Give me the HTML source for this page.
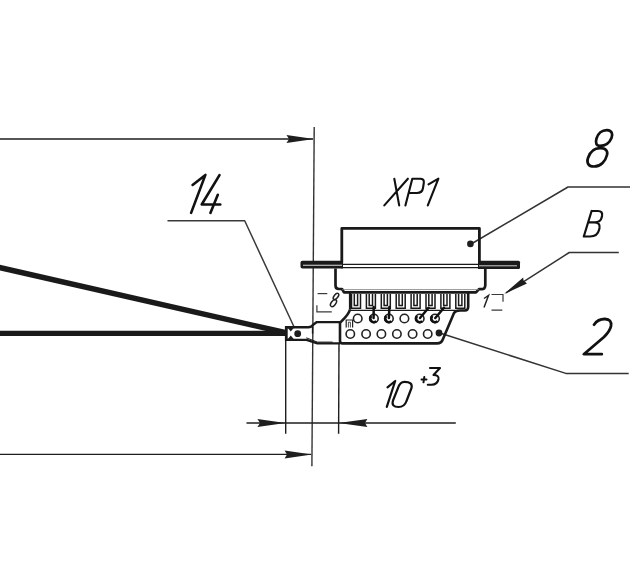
<!DOCTYPE html>
<html><head><meta charset="utf-8"><style>
html,body{margin:0;padding:0;background:#fff;width:643px;height:567px;overflow:hidden;font-family:"Liberation Sans",sans-serif;}
svg{display:block;}
</style></head><body>
<svg width="643" height="567" viewBox="0 0 643 567">
<rect width="643" height="567" fill="#fff"/>
<g fill="none" stroke="#1e1e1e" stroke-linecap="butt" stroke-linejoin="round">
  <!-- top dimension line -->
  <line x1="0" y1="139" x2="313" y2="139" stroke-width="1.4"/>
  <!-- long vertical -->
  <line x1="314.2" y1="127" x2="311.9" y2="466.3" stroke-width="1.4" stroke="#333"/>
  <!-- bottom dimension -->
  <line x1="0" y1="454.4" x2="311" y2="454.4" stroke-width="1.4"/>
  <!-- 10 dimension -->
  <line x1="246.5" y1="423" x2="455.8" y2="423" stroke-width="1.4"/>
  <line x1="285.7" y1="340" x2="285.7" y2="433.7" stroke-width="1.4"/>
  <line x1="339" y1="343" x2="338.6" y2="433.7" stroke-width="1.4"/>
  <!-- leaders -->
  <polyline points="167.5,220.8 244.7,220.8 294.1,327" stroke-width="1.5" stroke="#3a3a3a"/>
  <polyline points="630,187 568,187 472,243.5" stroke-width="1.5" stroke="#333"/>
  <polyline points="618.8,252.5 569.3,252.5 506,292.8" stroke-width="1.5" stroke="#333"/>
  <polyline points="438.3,332.5 565.8,373.4 628.7,373.4" stroke-width="1.5" stroke="#333"/>
</g>
<g fill="#1e1e1e" stroke="none">
  <!-- arrows -->
  <polygon points="314,139 286.5,135 289,139 286.5,143"/>
  <polygon points="312,454.4 284.6,450.4 287,454.4 284.6,458.4"/>
  <polygon points="285.5,423 257.4,419 260,423 257.4,427"/>
  <polygon points="338.6,423 367.4,419 365,423 367.4,427"/>
  <polygon points="504,294 527,283.6 523.5,280.5 523.2,277.6"/>
  <!-- dots -->
  <circle cx="470.4" cy="243.9" r="3.3"/>
  <circle cx="439" cy="333" r="3.4"/>
  <circle cx="297.7" cy="333.7" r="3.4"/>
</g>
<!-- wires -->
<g stroke="#1a1a1a" fill="none" stroke-linecap="butt">
  <line x1="-2" y1="267.1" x2="286" y2="332.8" stroke-width="5.5"/>
  <line x1="0" y1="333.4" x2="286" y2="333.4" stroke-width="5.3"/>
</g>
<!-- ferrule -->
<g fill="none" stroke="#1a1a1a" stroke-linejoin="round">
  <path d="M286,327.3 H308.5 Q311,327.3 313.4,324.6 L316.9,322.1 H340" stroke-width="2.4"/>
  <path d="M286,339.9 H306.5 L317.4,343.4 H340" stroke-width="2.3"/>
  <path d="M306.3,337.8 L317.4,342.1 H332.6" stroke-width="1"/>
  <line x1="286.3" y1="326" x2="286.3" y2="341" stroke-width="2.8"/>
  <line x1="312.6" y1="326.6" x2="312.6" y2="333.7" stroke-width="1.5"/>
</g>
<g fill="#1a1a1a">
  <polygon points="287,327 294.5,327 290.8,331.5"/>
  <polygon points="287,340 294.5,340 290.8,335.5"/>
</g>
<!-- connector -->
<g fill="none" stroke="#1a1a1a" stroke-linejoin="round">
  <path d="M341.8,262.8 V228.4 H479.4 V262.8" stroke-width="2.8"/>
  <line x1="341" y1="264.4" x2="480" y2="264.4" stroke-width="1.2"/>
  <line x1="341" y1="267.7" x2="480" y2="267.7" stroke-width="1.2"/>
  <path d="M335.5,268.5 V285.5 Q335.5,289 339,289 H342 L344,292.4 H476 L479,289.2 H481.5 Q485.3,289.2 485.3,285 V268.5" stroke-width="2.7"/>
  <line x1="342" y1="289.6" x2="479" y2="289.6" stroke-width="0.8" stroke="#777"/>
  <!-- pcb -->
  <path d="M350,309.5 Q349,314 342,320.7 L340,323 V341 Q340,343.4 342.5,343.4 H437 Q441.5,343.4 443,339 L454,313 Q455.5,310.5 460,310.5 H465 Q468,310.5 468.2,307 V293" stroke-width="2.6"/>
  <line x1="350" y1="293" x2="350" y2="309.5" stroke-width="2.2"/>
  <line x1="350" y1="310.4" x2="468" y2="310.4" stroke-width="1.4"/>
</g>
<g fill="#1a1a1a">
  <path d="M300.5,262.5 Q300.5,260.7 302.5,260.7 H343 V268.6 H302.5 Q300.5,268.6 300.5,266.8 Z"/>
  <path d="M478,260.7 H518.5 Q520,260.7 520,262.2 V267.6 Q520,269.1 518.5,269.1 H478 Z"/>
</g>
<line x1="303" y1="265.3" x2="342" y2="265.3" stroke="#ddd" stroke-width="1.1"/>
<line x1="479" y1="265.8" x2="517" y2="265.8" stroke="#ccc" stroke-width="1"/>
<!-- pins -->
<g fill="none" stroke="#1a1a1a" stroke-width="1.5">
  <path d="M351.5,294 V308.3 H360.5 V294 M354.3,294 V305.5 H357.6 V294"/>
  <path d="M366.4,294 V308.3 H375.4 V294 M369.2,294 V305.5 H372.5 V294"/>
  <path d="M381.3,294 V308.3 H390.3 V294 M384.1,294 V305.5 H387.4 V294"/>
  <path d="M396.2,294 V308.3 H405.2 V294 M399,294 V305.5 H402.3 V294"/>
  <path d="M411.1,294 V308.3 H420.1 V294 M413.9,294 V305.5 H417.2 V294"/>
  <path d="M426,294 V308.3 H435 V294 M428.8,294 V305.5 H432.1 V294"/>
  <path d="M440.9,294 V308.3 H449.9 V294 M443.7,294 V305.5 H447 V294"/>
  <path d="M455.8,294 V308.3 H464.8 V294 M458.6,294 V305.5 H461.9 V294"/>
</g>
<!-- holes -->
<g fill="none" stroke="#222" stroke-width="1.6">
  <circle cx="357.7" cy="318.5" r="4.3"/>
  <circle cx="373.9" cy="318.5" r="4.3"/>
  <circle cx="388.9" cy="318.5" r="4.3"/>
  <circle cx="404.4" cy="318.5" r="4.3"/>
  <circle cx="419.7" cy="318.5" r="4.3"/>
  <circle cx="435" cy="318.5" r="4.3"/>
  <circle cx="350.3" cy="334" r="4.2"/>
  <circle cx="366.1" cy="334" r="4.2"/>
  <circle cx="381.4" cy="334" r="4.2"/>
  <circle cx="396.9" cy="334" r="4.2"/>
  <circle cx="412.6" cy="334" r="4.2"/>
  <circle cx="427.7" cy="334" r="4.2"/>
</g>
<!-- wires into holes -->
<g stroke="#111" stroke-width="2.5" fill="none" stroke-linecap="round">
  <path d="M373.7,307 L373.6,318"/>
  <path d="M389.4,307 L388.9,318"/>
  <path d="M428.6,307.7 L420,318"/>
  <path d="M444,307.7 L435.3,318"/>
</g>
<g fill="none" stroke="#111" stroke-width="2.6">
  <path d="M371.35,315.95 A3.6,3.6 0 0 0 376.45,321.05"/>
  <path d="M386.35,315.95 A3.6,3.6 0 0 0 391.45,321.05"/>
  <path d="M417.15,315.95 A3.6,3.6 0 0 0 422.25,321.05"/>
  <path d="M432.45,315.95 A3.6,3.6 0 0 0 437.55,321.05"/>
</g>
<!-- brackets & small labels -->
<g fill="none" stroke="#3a3a3a" stroke-width="1.2">
  <path d="M317.6,293.6 H327.3"/>
  <path d="M316.9,305.2 V311.9 H331.8"/>
  <path d="M491.5,294.5 H503.6 M503,294.5 V301.7 M491.5,310.2 H502.3"/>
</g>
<g fill="none" stroke="#222" stroke-width="1.3">
  <ellipse cx="336" cy="296.4" rx="1.9" ry="3.7" transform="rotate(38 336 296.4)" stroke-width="1.5"/>
  <ellipse cx="333.5" cy="303.1" rx="2.2" ry="4" transform="rotate(38 333.5 303.1)" stroke-width="1.5"/>
  <path d="M484,298.5 L488.5,295.5 L484,307.4" stroke-width="1.5"/>
  <path d="M346.2,327.5 V320 H352.6 V327.5" stroke-width="1.2"/>
  <path d="M348.4,327.5 V322.2 H350.4 V327.5" stroke-width="0.8"/>
</g>
<!-- text glyphs -->
<g fill="none" stroke="#111" stroke-linecap="round" stroke-linejoin="round">
  <!-- XP1 -->
  <path d="M394.3,178.7 L399.2,205.4 M407.9,178.7 L384.3,205.4" stroke-width="2.1"/>
  <path d="M412.3,178.7 L405.4,205.4 M412.3,178.7 H420 Q424.5,178.7 423.8,183 L423,188 Q422.3,193 417,193 H408.6" stroke-width="2.1"/>
  <path d="M428.5,184.3 L438.4,178.7 L427.8,205.4" stroke-width="2.1"/>
  <!-- 14 -->
  <path d="M192.6,184.9 L205.4,174.9 L191.1,212.9 M219.5,175.2 L201.7,204.5 H220.3 M217.8,194.8 L210.4,212.9" stroke-width="2.6"/>
  <!-- 8 -->
  <path d="M607,130.1 C612,130.5 613,134 611.5,138 C609.5,143 605,145.8 600,145.8 C596,145.8 595.3,142.5 596.5,138.5 C598,133.5 602,130 607,130.1 Z" stroke-width="2.7"/>
  <path d="M600,148.2 C606,148.2 608,151 607,155 C605.5,161 601,166.5 594,166.5 C588,166.5 586.5,162.5 588,158 C590,152 594,148.2 600,148.2 Z" stroke-width="2.7"/>
  <!-- B -->
  <path d="M591.6,211 L583.8,236.5 M591.6,211 H598 Q603,211 602,216 L601.5,218 Q600.5,222.3 595,222.3 H589 M589,222.3 H594 Q600.5,222.3 599.5,228 L599,230 Q597.5,236.5 590,236.5 H583.8" stroke-width="2.2"/>
  <!-- 2 -->
  <path d="M594,324.7 Q598,318.9 605,319 Q612,319.2 611,326 Q610,331 604,337 L583.8,354.2 H601.8" stroke-width="2.8"/>
  <!-- 10+3 -->
  <path d="M387.5,387.3 L395.2,381 L386.8,406.9" stroke-width="2.2"/>
  <path d="M404.5,381.8 Q413,381.8 411.5,388 L406.5,401 Q404.5,407 398.5,407 Q391,407 393,400.5 L398,388 Q400,381.8 404.5,381.8 Z" stroke-width="2.2"/>
  <path d="M421.5,379.6 H426.5 M424.3,377 L423.5,382.3" stroke-width="2"/>
  <path d="M430,368 H440 L433.5,375 Q439,375 438.5,379 Q437.5,384.7 431.5,384.7 H427.8" stroke-width="2.1"/>
</g>
</svg>
</body></html>
